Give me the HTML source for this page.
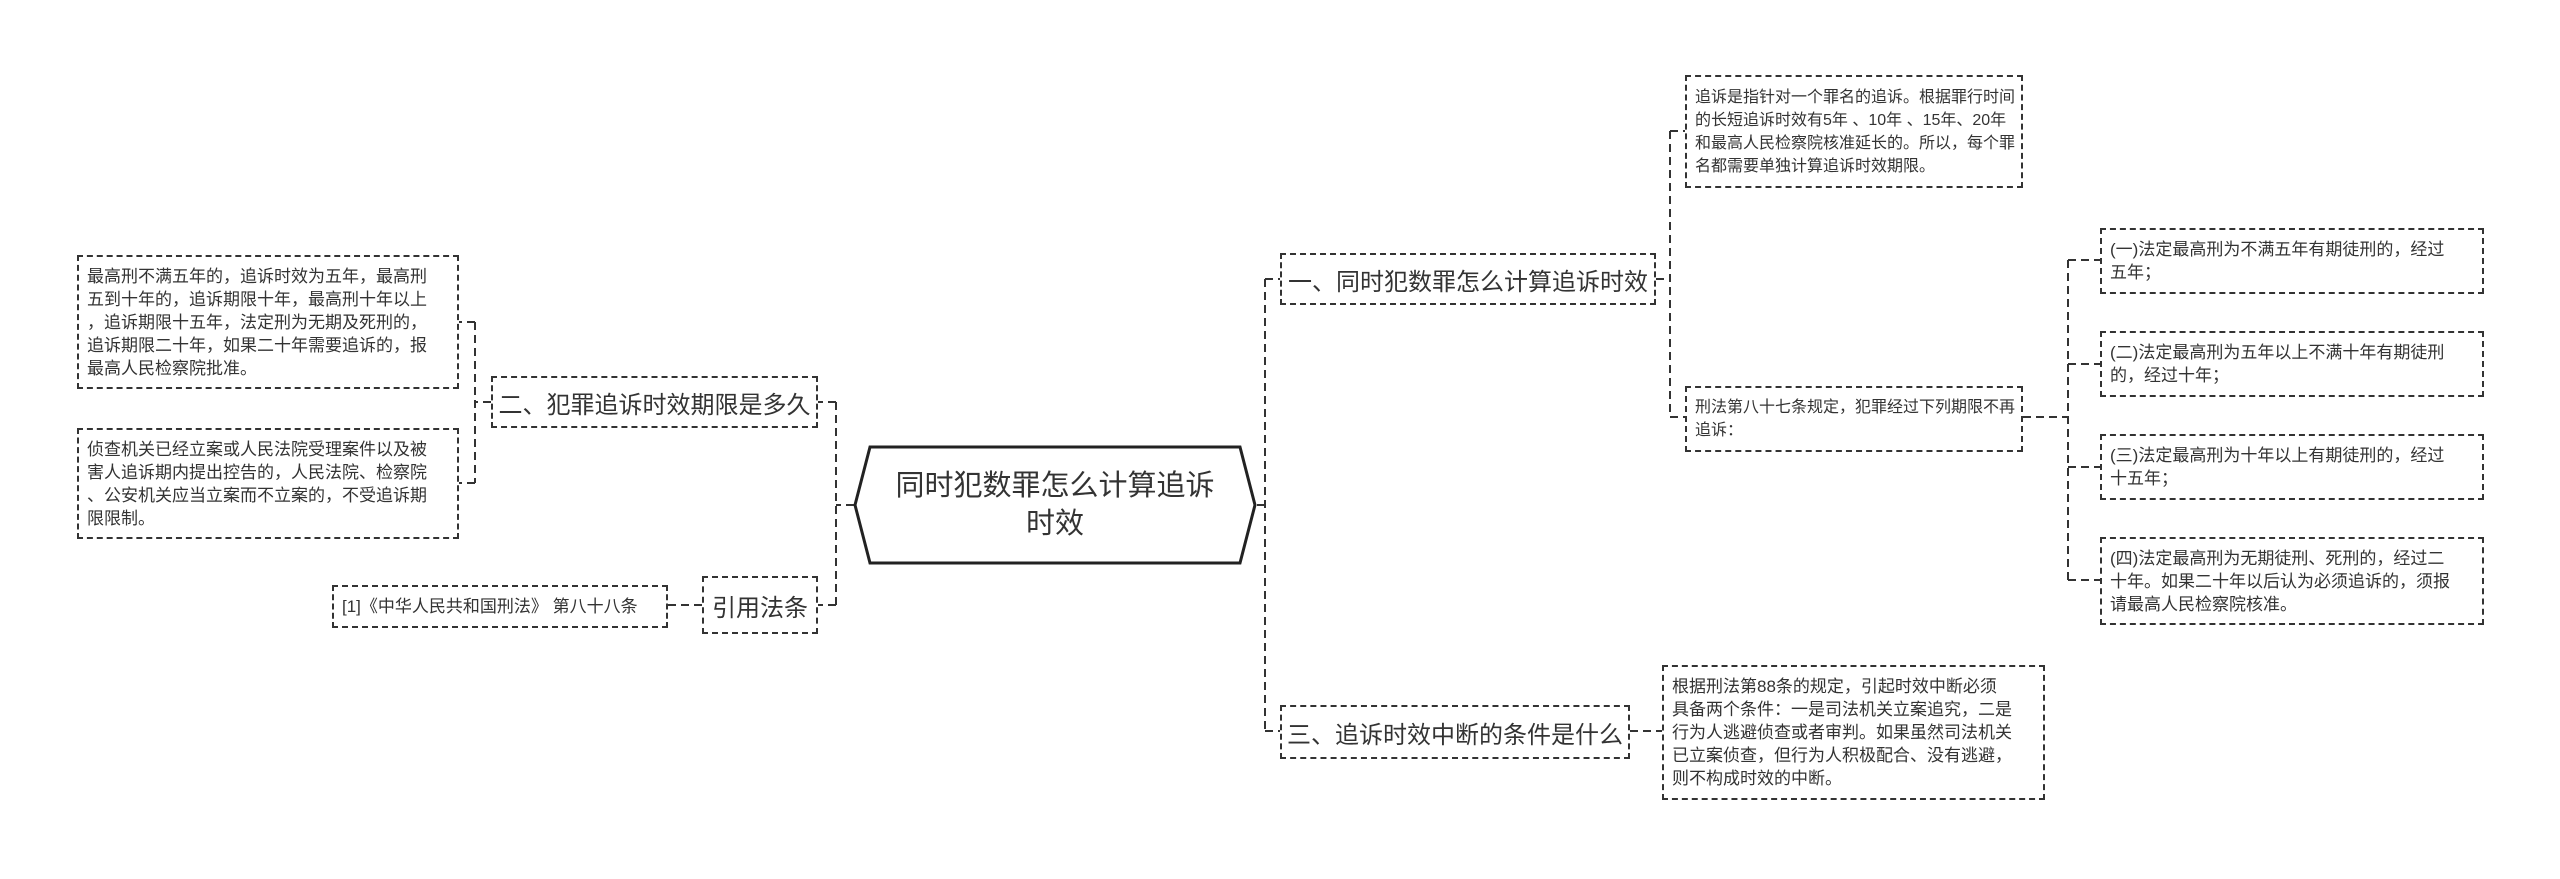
<!DOCTYPE html>
<html><head><meta charset="utf-8"><style>
html,body{margin:0;padding:0;background:#fff;}
body{width:2560px;height:879px;position:relative;overflow:hidden;font-family:"Liberation Sans","Noto Sans CJK SC",sans-serif;color:#333;}
.b{position:absolute;border:2px dashed #333;box-sizing:border-box;white-space:nowrap;}
.t{font-size:24px;display:flex;align-items:center;justify-content:center;}
.l{font-size:17px;line-height:23px;padding:6px 8px;display:flex;flex-direction:column;justify-content:center;}
svg{position:absolute;left:0;top:0;}
</style></head><body>
<svg width="2560" height="879">
<g stroke="#333" stroke-width="2" fill="none" stroke-dasharray="8,5">
<!-- central left bracket -->
<path d="M854 505 H836 M836 402 V605 M836 402 H818 M836 605 H818"/>
<!-- central right bracket -->
<path d="M1257 505 H1265 M1265 279 V731 M1265 279 H1280 M1265 731 H1280"/>
<!-- left node 二 -->
<path d="M491 402 H475 M475 322 V483 M475 322 H459 M475 483 H459"/>
<!-- 引用法条 -->
<path d="M702 605 H668"/>
<!-- 一 -->
<path d="M1656 279 H1670 M1670 131 V417 M1670 131 H1685 M1670 417 H1685"/>
<!-- 刑法87 -->
<path d="M2023 417 H2068 M2068 260 V580 M2068 260 H2100 M2068 364 H2100 M2068 467 H2100 M2068 580 H2100"/>
<!-- 三 -->
<path d="M1630 731 H1662"/>
</g>
<polygon points="870,447 1240,447 1255,505 1240,563 870,563 855,505" fill="#fff" stroke="#222" stroke-width="3"/>
</svg>
<div style="position:absolute;left:870px;top:447px;width:370px;height:116px;display:flex;align-items:center;justify-content:center;text-align:center;font-size:29px;line-height:38px;color:#333;">同时犯数罪怎么计算追诉<br>时效</div>

<div class="b t" style="left:491px;top:376px;width:327px;height:52px;">二、犯罪追诉时效期限是多久</div>
<div class="b t" style="left:702px;top:576px;width:116px;height:58px;">引用法条</div>
<div class="b l" style="left:77px;top:255px;width:382px;height:134px;">最高刑不满五年的，追诉时效为五年，最高刑<br>五到十年的，追诉期限十年，最高刑十年以上<br>，追诉期限十五年，法定刑为无期及死刑的，<br>追诉期限二十年，如果二十年需要追诉的，报<br>最高人民检察院批准。</div>
<div class="b l" style="left:77px;top:428px;width:382px;height:111px;">侦查机关已经立案或人民法院受理案件以及被<br>害人追诉期内提出控告的，人民法院、检察院<br>、公安机关应当立案而不立案的，不受追诉期<br>限限制。</div>
<div class="b l" style="left:332px;top:585px;width:336px;height:43px;">[1]《中华人民共和国刑法》 第八十八条</div>

<div class="b t" style="left:1280px;top:253px;width:376px;height:52px;">一、同时犯数罪怎么计算追诉时效</div>
<div class="b t" style="left:1280px;top:705px;width:350px;height:54px;">三、追诉时效中断的条件是什么</div>
<div class="b l" style="left:1685px;top:75px;width:338px;height:113px;font-size:16px;">追诉是指针对一个罪名的追诉。根据罪行时间<br>的长短追诉时效有5年 、10年 、15年、20年<br>和最高人民检察院核准延长的。所以，每个罪<br>名都需要单独计算追诉时效期限。</div>
<div class="b l" style="left:1685px;top:386px;width:338px;height:66px;font-size:16px;">刑法第八十七条规定，犯罪经过下列期限不再<br>追诉：</div>
<div class="b l" style="left:2100px;top:228px;width:384px;height:66px;">(一)法定最高刑为不满五年有期徒刑的，经过<br>五年；</div>
<div class="b l" style="left:2100px;top:331px;width:384px;height:66px;">(二)法定最高刑为五年以上不满十年有期徒刑<br>的，经过十年；</div>
<div class="b l" style="left:2100px;top:434px;width:384px;height:66px;">(三)法定最高刑为十年以上有期徒刑的，经过<br>十五年；</div>
<div class="b l" style="left:2100px;top:537px;width:384px;height:88px;">(四)法定最高刑为无期徒刑、死刑的，经过二<br>十年。如果二十年以后认为必须追诉的，须报<br>请最高人民检察院核准。</div>
<div class="b l" style="left:1662px;top:665px;width:383px;height:135px;">根据刑法第88条的规定，引起时效中断必须<br>具备两个条件：一是司法机关立案追究，二是<br>行为人逃避侦查或者审判。如果虽然司法机关<br>已立案侦查，但行为人积极配合、没有逃避，<br>则不构成时效的中断。</div>
</body></html>
